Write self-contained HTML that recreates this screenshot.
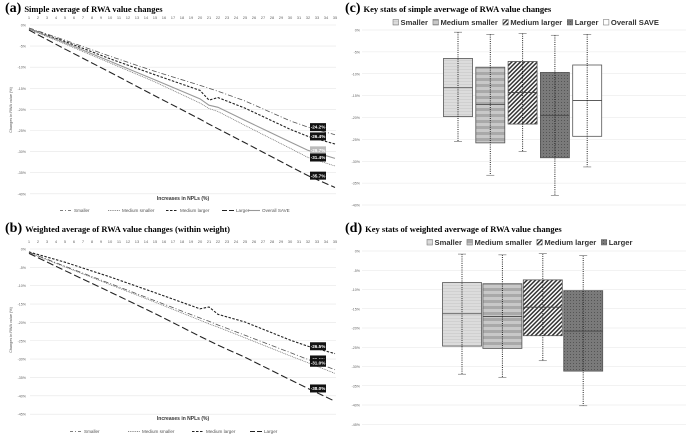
<!DOCTYPE html>
<html><head><meta charset="utf-8"><style>
body{margin:0;background:#fff;width:690px;height:442px;overflow:hidden;font-family:"Liberation Sans",sans-serif}
svg{display:block}
</style></head><body>
<svg id="fig" width="690" height="442" viewBox="0 0 690 442">
<defs>
<pattern id="pSm" width="3" height="3" patternUnits="userSpaceOnUse"><rect width="3" height="3" fill="#dcdcdc"/><rect width="3" height="1" fill="#d0d0d0"/></pattern>
<pattern id="pMs" width="6" height="6" patternUnits="userSpaceOnUse"><rect width="6" height="6" fill="#c8c8c8"/><rect width="6" height="3" fill="#a9a9a9"/></pattern>
<pattern id="pMl" width="3" height="3" patternUnits="userSpaceOnUse" patternTransform="rotate(45)"><rect width="3" height="3" fill="#fff"/><rect width="1.5" height="3" fill="#333"/></pattern>
<pattern id="pLg" width="3" height="3" patternUnits="userSpaceOnUse"><rect width="3" height="3" fill="#7a7a7a"/><rect width="1" height="1" fill="#555"/></pattern>
</defs>
<g id="root"></g>
</svg>
<script>
// ----- Panel (a) data -----
const aX = [1, 5, 10, 15, 20, 21, 22, 25, 30, 32, 35];
const aSmaller = [-0.7, -3.6, -7.4, -11.0, -14.3, -15.0, -15.7, -18.0, -22.7, -24.2, -26.0];
const aMedSmaller = [-1.0, -4.5, -9.0, -13.5, -18.5, -19.8, -20.5, -23.8, -29.2, -31.4, -33.4];
const aMedLarger = [-0.9, -3.9, -8.0, -11.8, -15.5, -17.8, -17.2, -19.7, -24.7, -26.4, -28.2];
const aLarger = [-1.2, -5.7, -11.2, -16.8, -22.3, -23.5, -24.6, -27.9, -33.5, -35.7, -38.5];
const aOverall = [-0.9, -4.2, -8.6, -13.0, -17.5, -19.0, -19.5, -22.6, -27.7, -29.7, -31.6];
const aYTicks = [0, -5, -10, -15, -20, -25, -30, -35, -40];
// ----- Panel (b) data -----
const bX = [1, 5, 10, 15, 20, 21, 22, 25, 30, 32, 35];
const bSmaller = [-0.9, -4.7, -9.4, -14.1, -18.8, -19.7, -20.7, -23.5, -28.2, -30.1, -32.9];
const bMedSmaller = [-1.0, -4.9, -9.7, -14.5, -19.4, -20.4, -21.3, -24.2, -29.1, -31.0, -33.9];
const bMedLarger = [-0.8, -3.6, -7.6, -11.9, -16.3, -15.8, -17.8, -19.9, -24.8, -26.5, -28.5];
const bLarger = [-1.2, -5.9, -11.7, -17.6, -23.8, -25.0, -26.2, -29.5, -35.6, -38.0, -41.5];
const bYTicks = [0, -5, -10, -15, -20, -25, -30, -35, -40, -45];
// ----- Panel (c) data -----
const cCats = ["Smaller", "Medium smaller", "Medium larger", "Larger", "Overall SAVE"];
const cMax = [-0.5, -1.0, -0.8, -1.2, -1.0];
const cQ3 = [-6.5, -8.5, -7.2, -9.7, -8.0];
const cMed = [-13.2, -17.0, -14.3, -19.5, -16.1];
const cQ1 = [-19.8, -25.8, -21.5, -29.2, -24.3];
const cMin = [-25.5, -33.2, -27.8, -37.8, -31.3];
const cYTicks = [0, -5, -10, -15, -20, -25, -30, -35, -40];
// ----- Panel (d) data -----
const dCats = ["Smaller", "Medium smaller", "Medium larger", "Larger"];
const dMax = [-0.8, -1.0, -0.7, -1.2];
const dQ3 = [-8.2, -8.5, -7.5, -10.3];
const dMed = [-16.3, -17.0, -14.6, -20.8];
const dQ1 = [-24.7, -25.3, -22.0, -31.2];
const dMin = [-32.0, -32.8, -28.5, -40.2];
const dYTicks = [0, -5, -10, -15, -20, -25, -30, -35, -40, -45];

const NS = "http://www.w3.org/2000/svg";
const root = document.getElementById("root");
function el(tag, attrs, parent, text) {
  const e = document.createElementNS(NS, tag);
  for (const k in attrs) e.setAttribute(k, attrs[k]);
  if (text !== undefined) e.textContent = text;
  (parent || root).appendChild(e);
  return e;
}
const fills = ["url(#pSm)", "url(#pMs)", "url(#pMl)", "url(#pLg)", "#fff"];

function title(x, y, letter, txt, name) {
  const t = el("text", {x: x, y: y, "font-family": "Liberation Serif, serif", "font-weight": "bold", "font-size": "13"});
  
  
  el("tspan", {"font-size": "14"}, t, "(" + letter + ")");
  el("tspan", {"font-size": "8.5", dx: "3"}, t, txt);
}

function linePanel(cfg) {
  const g = el("g", {});
  
  
  const xs = v => 29 + (v - 1) * 9.0;
  const ys = v => cfg.y0 - v * cfg.k;
  cfg.ticks.forEach(t => {
    const gl = el("line", {x1: 30, x2: 336, y1: ys(t), y2: ys(t), stroke: "#e6e6e6", "stroke-width": 0.6}, g);
    
    
    const tl = el("text", {x: 26, y: ys(t) + 1.5, "text-anchor": "end", "font-size": "3.6", fill: "#666"}, g, t + "%");
    
    
  });
  for (let i = 1; i <= 35; i++) {
    const xl = el("text", {x: xs(i), y: cfg.y0 - 6, "text-anchor": "middle", "font-size": "4", fill: "#666"}, g, String(i));
    
    
  }
  cfg.series.forEach(s => {
    const pts = cfg.x.map((xv, i) => xs(xv) + "," + ys(s.v[i])).join(" ");
    const p = el("polyline", {points: pts, fill: "none", stroke: s.c, "stroke-width": s.w, "stroke-dasharray": s.d || "none"}, g);
    
    
    if (s.lab !== undefined) {
      const idx = cfg.x.indexOf(32);
      const ly = ys(s.v[idx]);
      const r = el("rect", {x: 310, y: ly - 4, width: 16, height: 8, fill: s.lbg}, g);
      
      
      const lt = el("text", {x: 318, y: ly + 1.6, "text-anchor": "middle", "font-size": "4.6", "font-weight": "bold", fill: "#fff"}, g, s.v[idx].toFixed(1) + "%");
      
      
    }
  });
  const xt = el("text", {x: 183, y: cfg.xtY, "text-anchor": "middle", "font-size": "5", "font-weight": "bold", fill: "#333"}, g, "Increases in NPLs (%)");
  
  
  const yt = el("text", {x: 0, y: 0, "text-anchor": "middle", "font-size": "3.8", fill: "#555", transform: "translate(12," + cfg.ytY + ") rotate(-90)"}, g, "Changes in RWA value (%)");
  
  
  cfg.legend.forEach(L => {
    const lg = el("g", {}, g);
    
    
    el("line", {x1: L.x, x2: L.x + 12, y1: cfg.legY - 1.5, y2: cfg.legY - 1.5, stroke: L.c, "stroke-width": L.w, "stroke-dasharray": L.d || "none"}, lg);
    el("text", {x: L.x + 14, y: cfg.legY, "font-size": "4.6", fill: "#555"}, lg, L.t);
  });
}

title(5, 12, "a", "Simple average of RWA value changes", "panel-a-title");
linePanel({
  name: "panel-a-line-chart", x: aX, y0: 25, k: 4.22, ticks: aYTicks, xtY: 200, ytY: 110, legY: 212,
  series: [
    {n: "smaller", v: aSmaller, c: "#555", w: 0.8, d: "5,2,1,2", lab: 1, lbg: "#111"},
    {n: "medium-larger", v: aMedLarger, c: "#222", w: 1.1, d: "2.5,1.5", lab: 1, lbg: "#111"},
    {n: "overall-save", v: aOverall, c: "#999", w: 1.1, lab: 1, lbg: "#bbb"},
    {n: "medium-smaller", v: aMedSmaller, c: "#666", w: 0.7, d: "1,0.8", lab: 1, lbg: "#111"},
    {n: "larger", v: aLarger, c: "#222", w: 1.1, d: "7,3", lab: 1, lbg: "#111"}
  ],
  legend: [
    {x: 60, t: "Smaller", c: "#555", w: 0.8, d: "3,2,1,2"},
    {x: 108, t: "Medium smaller", c: "#666", w: 0.7, d: "1,0.8"},
    {x: 166, t: "Medium larger", c: "#222", w: 1.1, d: "2.5,1.5"},
    {x: 222, t: "Larger", c: "#222", w: 1.1, d: "5,2"},
    {x: 248, t: "Overall SAVE", c: "#999", w: 1.1}
  ]
});

title(5, 232, "b", "Weighted average of RWA value changes (within weight)", "panel-b-title");
linePanel({
  name: "panel-b-line-chart", x: bX, y0: 249, k: 3.67, ticks: bYTicks, xtY: 420, ytY: 330, legY: 433,
  series: [
    {n: "medium-larger", v: bMedLarger, c: "#222", w: 1.1, d: "2.5,1.5", lab: 1, lbg: "#111"},
    {n: "smaller", v: bSmaller, c: "#555", w: 0.8, d: "5,2,1,2", lab: 1, lbg: "#111"},
    {n: "medium-smaller", v: bMedSmaller, c: "#666", w: 0.7, d: "1,0.8", lab: 1, lbg: "#111"},
    {n: "larger", v: bLarger, c: "#222", w: 1.1, d: "7,3", lab: 1, lbg: "#111"}
  ],
  legend: [
    {x: 70, t: "Smaller", c: "#555", w: 0.8, d: "3,2,1,2"},
    {x: 128, t: "Medium smaller", c: "#666", w: 0.7, d: "1,0.8"},
    {x: 192, t: "Medium larger", c: "#222", w: 1.1, d: "2.5,1.5"},
    {x: 250, t: "Larger", c: "#222", w: 1.1, d: "5,2"}
  ]
});

function boxPanel(cfg) {
  const g = el("g", {});
  
  
  const ys = v => cfg.y0 - v * cfg.k;
  cfg.ticks.forEach(t => {
    const gl = el("line", {x1: 362, x2: 686, y1: ys(t), y2: ys(t), stroke: "#e6e6e6", "stroke-width": 0.6}, g);
    
    
    const tl = el("text", {x: 360, y: ys(t) + 1.5, "text-anchor": "end", "font-size": "3.6", fill: "#666"}, g, t + "%");
    
    
  });
  let lx = cfg.legX;
  cfg.cats.forEach((c, i) => {
    const lg = el("g", {}, g);
    
    
    el("rect", {x: lx, y: cfg.legY - 5.5, width: 5.5, height: 5.5, fill: fills[i], stroke: "#666", "stroke-width": 0.5}, lg);
    const t = el("text", {x: lx + 7.5, y: cfg.legY, "font-size": "7.6", "font-weight": "bold", fill: "#333"}, lg, c);
    lx += 7.5 + t.getComputedTextLength() + 5;
  });
  cfg.cats.forEach((c, i) => {
    const cx = cfg.cx0 + i * cfg.step, w = cfg.bw;
    const bg = el("g", {}, g);
    
    
    el("rect", {x: cx - w / 2, y: ys(cfg.q3[i]), width: w, height: ys(cfg.q1[i]) - ys(cfg.q3[i]), fill: fills[i], stroke: "#555", "stroke-width": 0.8}, bg);
    el("line", {x1: cx - w / 2, x2: cx + w / 2, y1: ys(cfg.med[i]), y2: ys(cfg.med[i]), stroke: "#444", "stroke-width": 0.8}, bg);
    el("line", {x1: cx, x2: cx, y1: ys(cfg.max[i]), y2: ys(cfg.min[i]), stroke: "#222", "stroke-width": 1, "stroke-dasharray": "1,1.2"}, bg);
    el("line", {x1: cx - 4, x2: cx + 4, y1: ys(cfg.max[i]), y2: ys(cfg.max[i]), stroke: "#666", "stroke-width": 0.6}, bg);
    el("line", {x1: cx - 4, x2: cx + 4, y1: ys(cfg.min[i]), y2: ys(cfg.min[i]), stroke: "#666", "stroke-width": 0.6}, bg);
  });
}

title(345, 12, "c", "Key stats of simple averwage of RWA value changes", "panel-c-title");
boxPanel({name: "panel-c-box-chart", cats: cCats, max: cMax, q3: cQ3, med: cMed, q1: cQ1, min: cMin,
  ticks: cYTicks, y0: 30, k: 4.375, cx0: 458, step: 32.3, bw: 29, legX: 393, legY: 25});

title(345, 232, "d", "Key stats of weighted averwage of RWA value changes", "panel-d-title");
boxPanel({name: "panel-d-box-chart", cats: dCats, max: dMax, q3: dQ3, med: dMed, q1: dQ1, min: dMin,
  ticks: dYTicks, y0: 251, k: 3.85, cx0: 462, step: 40.4, bw: 39, legX: 427, legY: 245});
</script>
</body></html>
